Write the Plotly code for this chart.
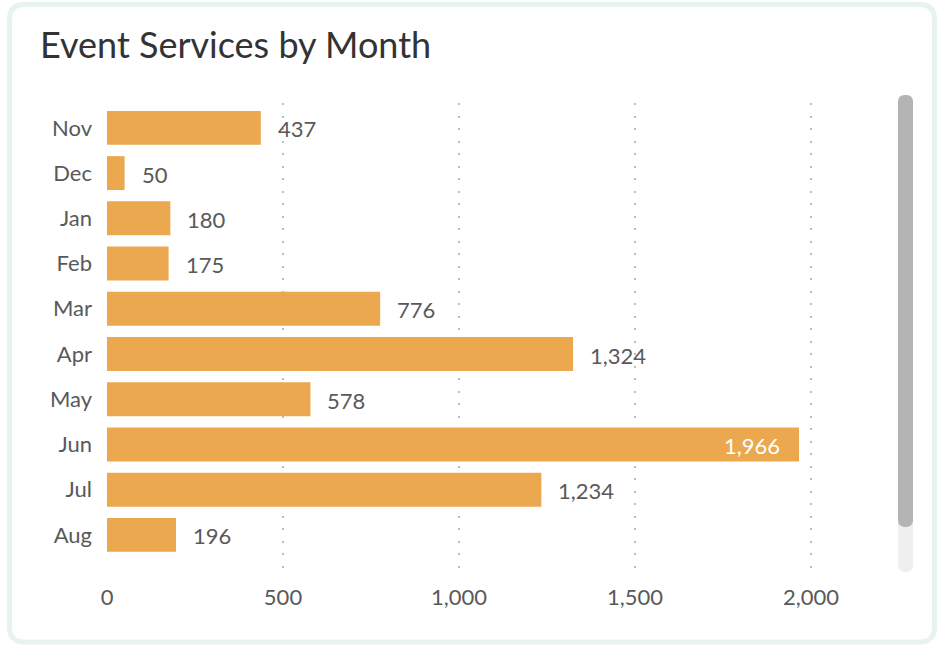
import plotly.graph_objects as go

months = ["Nov", "Dec", "Jan", "Feb", "Mar", "Apr", "May", "Jun", "Jul", "Aug"]
services = [437, 50, 180, 175, 776, 1324, 578, 1966, 1234, 196]
x_ticks = [0, 500, 1000, 1500, 2000]
x_tick_labels = ["0", "500", "1,000", "1,500", "2,000"]
inside_label_months = ["Jun"]

W, H = 937, 646
L, R, T, B = 107, 880, 103, 572
X2000 = 811
FONT = "Lato, 'Open Sans', sans-serif"
BAR = "#EBA84F"
TXT = "#595959"

def px(x):
    return (x - L) / (R - L)

def py(y):
    return (B - y) / (B - T)

fig = go.Figure()
fig.add_trace(go.Bar(
    y=months, x=services, orientation="h",
    marker=dict(color=BAR, line=dict(width=0)),
    hoverinfo="skip",
))

annotations = []
for m, v in zip(months, services):
    inside = m in inside_label_months
    annotations.append(dict(
        x=v, y=m, xref="x", yref="y",
        text=f"{v:,}", showarrow=False,
        xanchor="right" if inside else "left",
        xshift=-17 if inside else 15,
        yshift=-1,
        font=dict(family=FONT, size=22, color="white" if inside else TXT),
    ))

def rrect(x0, y0, x1, y1, r):
    return (f"M {px(x0+r)},{py(y0)} L {px(x1-r)},{py(y0)} "
            f"Q {px(x1)},{py(y0)} {px(x1)},{py(y0+r)} "
            f"L {px(x1)},{py(y1-r)} Q {px(x1)},{py(y1)} {px(x1-r)},{py(y1)} "
            f"L {px(x0+r)},{py(y1)} Q {px(x0)},{py(y1)} {px(x0)},{py(y1-r)} "
            f"L {px(x0)},{py(y0+r)} Q {px(x0)},{py(y0)} {px(x0+r)},{py(y0)} Z")

shapes = [
    dict(type="path", xref="paper", yref="paper", path=rrect(9.5, 4.5, 934.5, 642, 15),
         line=dict(color="#E6F3EE", width=5), fillcolor="rgba(0,0,0,0)", layer="below"),
    dict(type="path", xref="paper", yref="paper", path=rrect(898, 95, 913, 572, 7),
         line=dict(width=0), fillcolor="#EFEFEF", layer="below"),
    dict(type="path", xref="paper", yref="paper", path=rrect(898, 95, 913, 527, 7),
         line=dict(width=0), fillcolor="#B4B4B4", layer="below"),
]

fig.update_layout(
    width=W, height=H,
    margin=dict(l=L, r=W - R, t=T, b=H - B),
    paper_bgcolor="white", plot_bgcolor="white",
    bargap=0.25,
    showlegend=False,
    title=dict(text="Event Services by Month", x=40 / W, xanchor="left",
               y=1 - 45 / H, yanchor="middle", xref="container", yref="container",
               font=dict(family=FONT, size=36, color="#333333")),
    font=dict(family=FONT, size=22, color=TXT),
    annotations=annotations,
    shapes=shapes,
    xaxis=dict(range=[0, 2000 * (R - L) / (X2000 - L)], tickvals=x_ticks, ticktext=x_tick_labels,
               showgrid=True, gridcolor="#BDBDBD", griddash="2px,10.5px", gridwidth=2,
               zeroline=False, showline=False, ticks="", ticklabelstandoff=10,
               tickfont=dict(family=FONT, size=22, color=TXT), fixedrange=True),
    yaxis=dict(range=[9.82, -0.55], showgrid=False, zeroline=False, showline=False,
               ticks="", ticklabelstandoff=14,
               tickfont=dict(family=FONT, size=22, color=TXT), fixedrange=True),
)

fig.write_html(
    "out.html",
    config={"displayModeBar": False},
    post_script="document.body.style.margin='0';document.body.style.overflow='hidden';",
)
